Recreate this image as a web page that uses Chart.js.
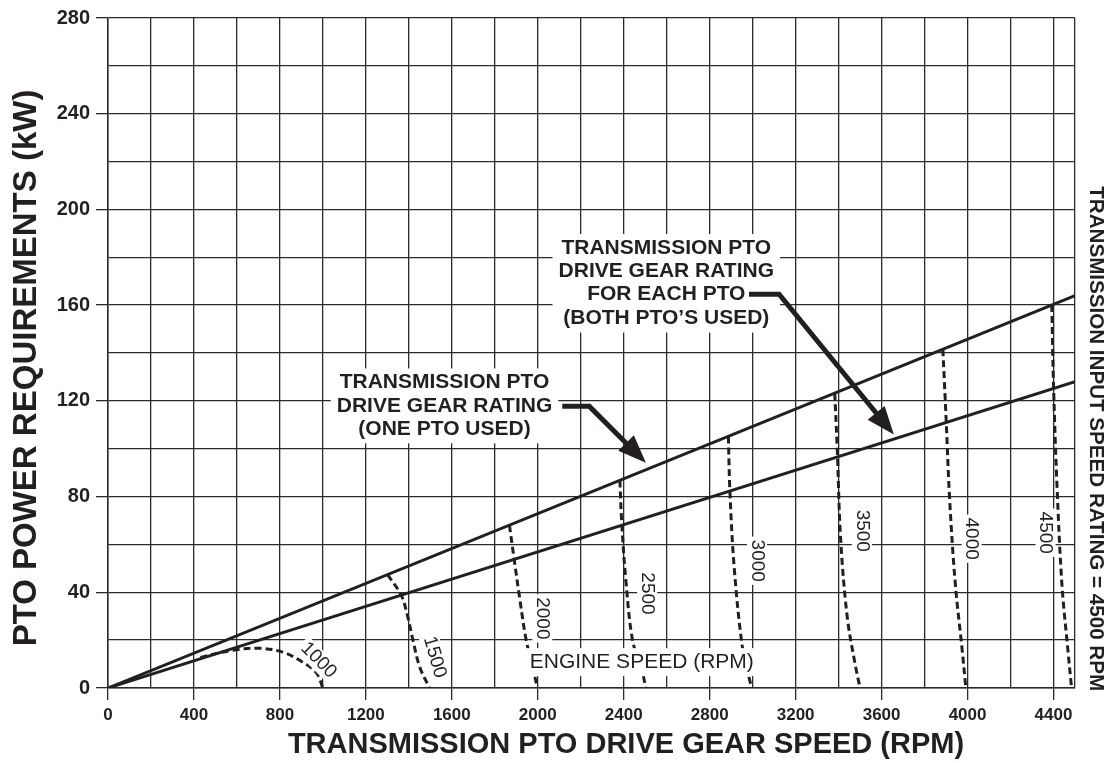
<!DOCTYPE html>
<html>
<head>
<meta charset="utf-8">
<script src="https://cdn.jsdelivr.net/npm/chart.js@4.4.1/dist/chart.umd.min.js"></script>
<style>
  html, body { margin: 0; padding: 0; background: #fff; }
  #wrap { width: 1104px; height: 763px; }
</style>
</head>
<body>
<div id="wrap"><canvas id="ptoChart" width="1104" height="763"></canvas></div>
<script>
const chartFont = '"Liberation Sans", Arial, Helvetica, sans-serif';
const ink = '#231f20';

// axes
const xGridRpm = [0, 200, 400, 600, 800, 1000, 1200, 1400, 1600, 1800, 2000, 2200,
  2400, 2600, 2800, 3000, 3200, 3400, 3600, 3800, 4000, 4200, 4400, 4500];
const xTickLabels = [0, 400, 800, 1200, 1600, 2000, 2400, 2800, 3200, 3600, 4000, 4400];
const yTickLabels = [0, 40, 80, 120, 160, 200, 240, 280];

// gear rating lines, kW at 0 and 4500 rpm
const ratingRpm = [0, 4500];
const onePtoKw = [0, 164];
const bothPtoKw = [0, 128];

// engine speed curves (dashed)
const engineSpeeds = ['1000', '1500', '2000', '2500', '3000', '3500', '4000', '4500'];
const rpm1000 = [430, 581, 706, 813, 906, 971, 1000];
const kw1000 = [12.8, 15.8, 16.6, 15.0, 10.8, 6.2, 0];
const rpm1500 = [1301, 1365, 1395, 1419, 1450, 1496];
const kw1500 = [47.4, 38.7, 29.7, 20, 8.9, 0];
const rpm2000 = [1868, 1891, 1915, 1946, 1976, 1998];
const kw2000 = [68.1, 53.2, 38, 20, 8.9, 0];
const rpm2500 = [2382, 2391, 2410, 2441, 2488, 2503];
const kw2500 = [86.8, 68.5, 44.9, 20, 6.1, 0];
const rpm3000 = [2887, 2894, 2914, 2952, 2986, 2998];
const kw3000 = [105.2, 82.3, 50.4, 17.2, 3.3, 0];
const rpm3500 = [3382, 3394, 3409, 3440, 3479, 3500];
const kw3500 = [123.3, 99, 62.9, 29.7, 8.9, 0];
const rpm4000 = [3885, 3900, 3917, 3943, 3975, 3992];
const kw4000 = [141.6, 112.8, 78.2, 43.5, 15.8, 0];
const rpm4500 = [4392, 4400, 4416, 4439, 4467, 4484];
const kw4500 = [160.1, 126.7, 85.1, 43.5, 15.8, 0];

const curveRpm = [rpm1000, rpm1500, rpm2000, rpm2500, rpm3000, rpm3500, rpm4000, rpm4500];
const curveKw = [kw1000, kw1500, kw2000, kw2500, kw3000, kw3500, kw4000, kw4500];

// where the curve numbers sit (rpm, kW, angle in degrees)
const curveLabelPos = [
  [980, 11.6, 45], [1520, 12.9, 74], [2021, 29.1, 90], [2509, 39.5, 90],
  [3020, 53.2, 90], [3508, 65.7, 90], [4019, 62.4, 90], [4363, 64.9, 90]
];

function toPoints(xs, ys) {
  return xs.map((x, i) => ({ x: x, y: ys[i] }));
}

const solidLine = (label, kw) => ({
  label: label,
  data: toPoints(ratingRpm, kw),
  borderColor: ink,
  borderWidth: 3,
  pointRadius: 0,
  showLine: true
});

const dashedCurves = engineSpeeds.map((s, i) => ({
  label: s,
  data: toPoints(curveRpm[i], curveKw[i]),
  borderColor: ink,
  borderWidth: 3,
  borderDash: [7, 4],
  pointRadius: 0,
  showLine: true,
  tension: 0.35
}));

function textBlock(ctx, lines, cx, ys, font) {
  ctx.font = font;
  const w = Math.max(...lines.map(l => ctx.measureText(l).width));
  ctx.fillStyle = '#fff';
  ctx.fillRect(cx - w / 2 - 6, ys[0] - 14, w + 12, ys[ys.length - 1] - ys[0] + 28);
  ctx.fillStyle = ink;
  ctx.textAlign = 'center';
  ctx.textBaseline = 'middle';
  lines.forEach((l, i) => ctx.fillText(l, cx, ys[i]));
}

function rotatedLabel(ctx, text, cx, cy, deg, font, size, bg) {
  ctx.save();
  ctx.translate(cx, cy);
  ctx.rotate(deg * Math.PI / 180);
  ctx.font = font;
  const w = ctx.measureText(text).width;
  if (bg) {
    ctx.fillStyle = '#fff';
    ctx.fillRect(-w / 2 - 3, -size / 2 - 2, w + 6, size + 4);
  }
  ctx.fillStyle = ink;
  ctx.textAlign = 'center';
  ctx.textBaseline = 'middle';
  ctx.fillText(text, 0, 0);
  ctx.restore();
}

function arrow(ctx, pts) {
  const n = pts.length;
  const [tx, ty] = pts[n - 1];
  const [sx, sy] = pts[n - 2];
  const len = Math.hypot(tx - sx, ty - sy);
  const ux = (tx - sx) / len, uy = (ty - sy) / len;
  const head = 28, half = 11;
  const bx = tx - ux * head, by = ty - uy * head;
  ctx.strokeStyle = ink;
  ctx.lineWidth = 5;
  ctx.lineJoin = 'miter';
  ctx.beginPath();
  ctx.moveTo(pts[0][0], pts[0][1]);
  for (let i = 1; i < n - 1; i++) ctx.lineTo(pts[i][0], pts[i][1]);
  ctx.lineTo(bx + ux * 2, by + uy * 2);
  ctx.stroke();
  ctx.fillStyle = ink;
  ctx.beginPath();
  ctx.moveTo(tx, ty);
  ctx.lineTo(bx - uy * half, by + ux * half);
  ctx.lineTo(bx + uy * half, by - ux * half);
  ctx.closePath();
  ctx.fill();
}

const notesPlugin = {
  id: 'notes',
  afterDatasetsDraw(chart) {
    const { ctx, scales: { x, y } } = chart;
    const px = r => x.getPixelForValue(r);
    const py = k => y.getPixelForValue(k);
    ctx.save();

    const boldNote = 'bold 21px ' + chartFont;
    textBlock(ctx, ['TRANSMISSION PTO', 'DRIVE GEAR RATING', '(ONE PTO USED)'],
      px(1566), [py(127.7), py(117.7), py(108.1)], boldNote);
    textBlock(ctx, ['TRANSMISSION PTO', 'DRIVE GEAR RATING', 'FOR EACH PTO', '(BOTH PTO\u2019S USED)'],
      px(2598), [py(183.9), py(174.2), py(164.4), py(154.4)], boldNote);

    arrow(ctx, [[px(2114), py(117.7)], [px(2240), py(117.7)], [px(2503), py(94.1)]]);
    arrow(ctx, [[px(2983), py(164.6)], [px(3123), py(164.6)], [px(3657), py(105.9)]]);

    textBlock(ctx, ['ENGINE SPEED (RPM)'], px(2484), [py(10.8)], '21px ' + chartFont);

    engineSpeeds.forEach((s, i) => {
      const [r, k, a] = curveLabelPos[i];
      rotatedLabel(ctx, s, px(r), py(k), a, '19px ' + chartFont, 16, true);
    });
    ctx.restore();
  },
  afterDraw(chart) {
    const { ctx, chartArea: area, scales: { y } } = chart;
    ctx.save();
    // right hand note
    rotatedLabel(ctx, 'TRANSMISSION INPUT SPEED RATING = 4500 RPM', area.right + 21,
      y.getPixelForValue(104.2), 90, 'bold 20.6px ' + chartFont, 18, false);
    // axis titles
    ctx.fillStyle = ink;
    ctx.font = 'bold 29px ' + chartFont;
    ctx.textAlign = 'center';
    ctx.textBaseline = 'middle';
    ctx.fillText('TRANSMISSION PTO DRIVE GEAR SPEED (RPM)', 626, 745);
    ctx.translate(27, 368);
    ctx.rotate(-Math.PI / 2);
    ctx.font = 'bold 33px ' + chartFont;
    ctx.fillText('PTO POWER REQUIREMENTS (kW)', 0, 0);
    ctx.restore();
  }
};

const gridColor = '#2b2b2b';

new Chart(document.getElementById('ptoChart'), {
  type: 'scatter',
  data: {
    datasets: [solidLine('One PTO used', onePtoKw), solidLine('Both PTOs used', bothPtoKw), ...dashedCurves]
  },
  options: {
    responsive: false,
    animation: false,
    devicePixelRatio: 1,
    layout: { padding: { top: 15, right: 29, left: 0, bottom: 0 } },
    plugins: { legend: { display: false }, tooltip: { enabled: false } },
    scales: {
      x: {
        type: 'linear',
        min: 0,
        max: 4500,
        afterBuildTicks: scale => { scale.ticks = xGridRpm.map(v => ({ value: v })); },
        afterFit: scale => { scale.height = 75; },
        grid: {
          color: gridColor,
          lineWidth: 1.3,
          tickLength: 12,
          tickColor: ctx => (ctx.tick && xTickLabels.includes(ctx.tick.value)) ? gridColor : 'rgba(0,0,0,0)'
        },
        border: { color: gridColor, width: 1.5 },
        ticks: {
          autoSkip: false,
          maxRotation: 0,
          padding: 5,
          color: ink,
          font: { family: chartFont, size: 17, weight: 'bold' },
          callback: v => xTickLabels.includes(v) ? String(v) : ''
        }
      },
      y: {
        type: 'linear',
        min: 0,
        max: 280,
        afterFit: scale => { scale.width = 108; },
        grid: {
          color: gridColor,
          lineWidth: 1.3,
          tickLength: 12,
          tickColor: ctx => (ctx.tick && yTickLabels.includes(ctx.tick.value)) ? gridColor : 'rgba(0,0,0,0)'
        },
        border: { color: gridColor, width: 1.5 },
        ticks: {
          stepSize: 20,
          autoSkip: false,
          padding: 6,
          color: ink,
          font: { family: chartFont, size: 20, weight: 'bold' },
          callback: v => yTickLabels.includes(v) ? String(v) : ''
        }
      }
    }
  },
  plugins: [notesPlugin]
});
</script>
</body>
</html>
